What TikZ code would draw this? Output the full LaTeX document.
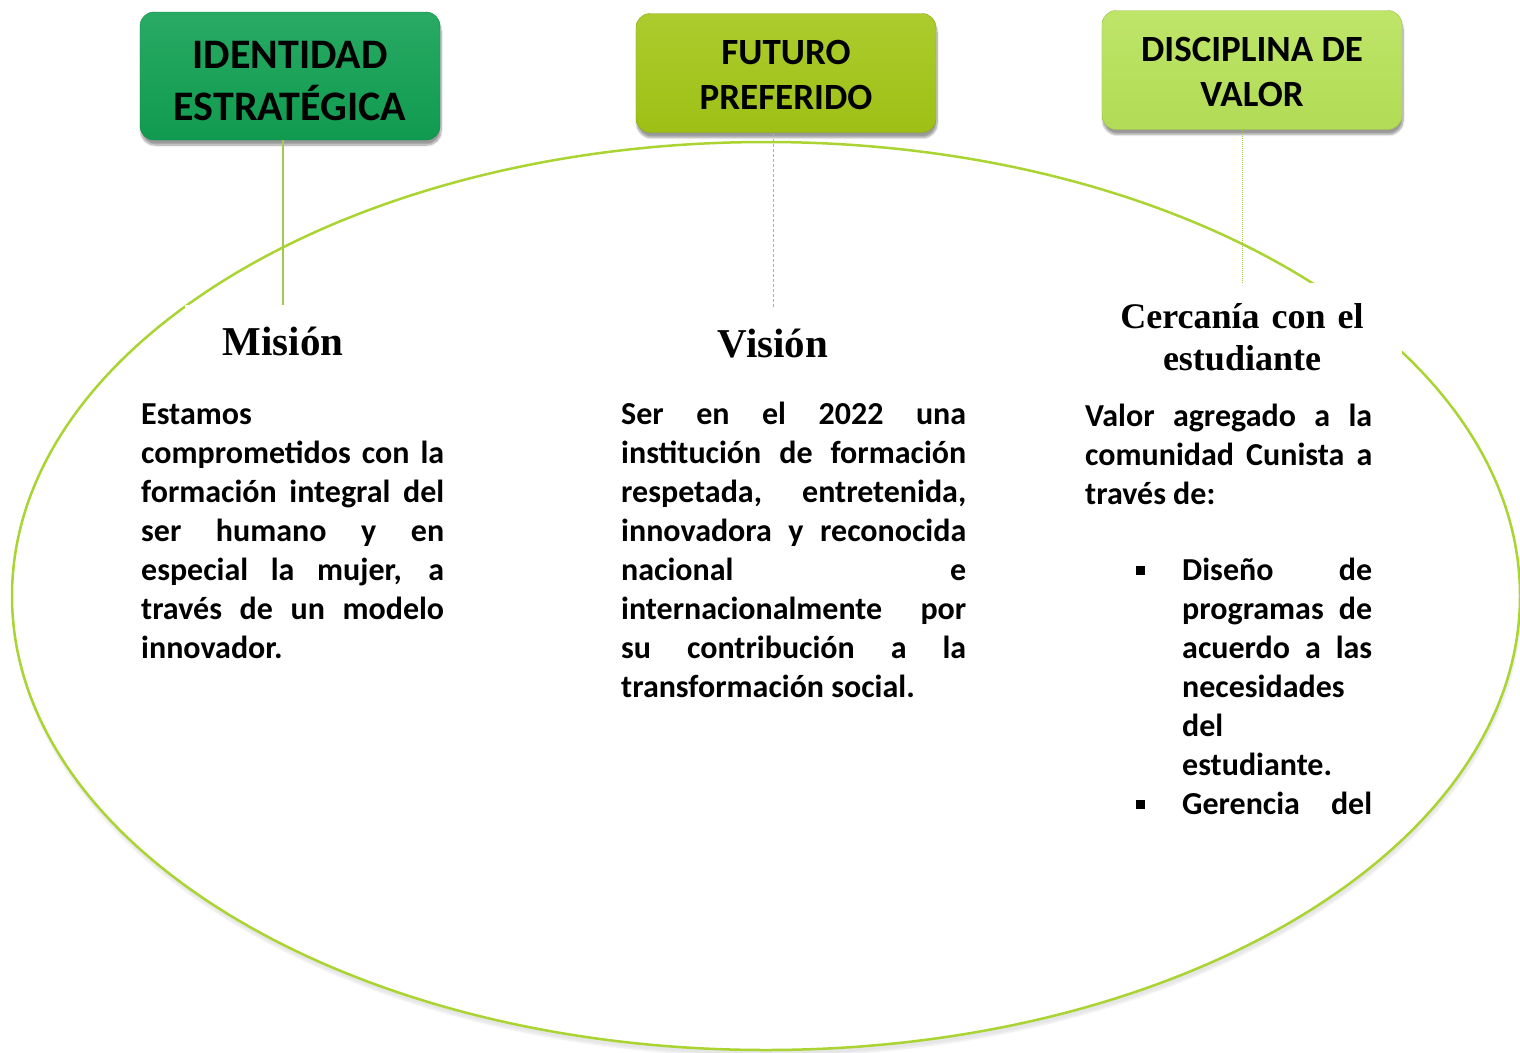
\documentclass[tikz,border=0pt]{standalone}
\usepackage{fontspec}
\setmainfont{Carlito}
\newfontfamily\tiempos{Liberation Serif}
\usetikzlibrary{positioning,shadows.blur}
\definecolor{verdeidentidad}{HTML}{11A153}
\definecolor{verdefuturo}{HTML}{A3C616}
\definecolor{verdedisciplina}{HTML}{B7E258}
\definecolor{lineaelipse}{HTML}{A9D431}
\definecolor{lineaenlace}{HTML}{A2CB4E}
\tikzset{
caja/.style={
  rounded corners=14pt,
  minimum width=300pt,
  minimum height=119pt,
  align=center,
  blur shadow={shadow xshift=1pt,shadow yshift=-5pt,shadow blur steps=10,shadow opacity=40}
},
titulo/.style={
  fill=white,
  inner xsep=6pt,
  inner ysep=14pt,
  anchor=north,
  align=center
},
texto/.style={
  inner sep=0pt,
  anchor=base west,
  align=justify,
  font=\bfseries\fontsize{32}{39}\selectfont
},
enlace/.style={draw=lineaenlace,line width=1.2pt}
}

\begin{document}
\begin{tikzpicture}[x=1pt,y=-1pt]
  \useasboundingbox (0,0) rectangle (1520,1052);
  \draw[draw=lineaelipse,line width=2.5pt,fill=white,
    blur shadow={shadow xshift=1pt,shadow yshift=-6pt,shadow blur steps=6,shadow opacity=10}]
    (766,596) ellipse [x radius=754pt,y radius=454pt];

  \node[caja,minimum height=128pt,top color=verdeidentidad!90!white,bottom color=verdeidentidad!96!black,
    draw=verdeidentidad!85!black,font=\bfseries\fontsize{42}{52}\selectfont]
    (identidad) at (290,76) {\rule{0pt}{37pt}IDENTIDAD\\ESTRATÉGICA};
  \node[caja,top color=verdefuturo!90!white,bottom color=verdefuturo!97!black,
    draw=verdefuturo!85!black,font=\bfseries\fontsize{37}{45}\selectfont]
    (futuro) at (786,73) {\rule{0pt}{29pt}FUTURO\\PREFERIDO};
  \node[caja,top color=verdedisciplina!90!white,bottom color=verdedisciplina!97!black,
    draw=verdedisciplina!85!black,font=\bfseries\fontsize{37}{45}\selectfont]
    (disciplina) at (1252,70) {\rule{0pt}{29pt}DISCIPLINA DE\\VALOR};

  \node[titulo,minimum width=196pt,text height=36pt,font=\tiempos\bfseries\fontsize{41}{46}\selectfont]
    (mision) at (283,305) {Misión};
  \node[titulo,text height=36pt,font=\tiempos\bfseries\fontsize{41}{46}\selectfont]
    (vision) at (773,307) {Visión};
  \node[titulo,text width=300pt,inner xsep=10pt,text height=31pt,font=\tiempos\bfseries\fontsize{36}{42}\selectfont]
    (cercania) at (1242,283) {Cercanía con el\\estudiante};

  \draw[enlace] (mision.north) -- (mision.north |- identidad.south);
  \draw[enlace,line width=0.8pt,dash pattern=on 3pt off 2pt] (vision.north) -- (vision.north |- futuro.south);
  \draw[enlace,line width=0.9pt,dash pattern=on 1pt off 1pt] (cercania.north) -- (cercania.north |- disciplina.south);

  \node[texto,text width=303pt] (misiontexto) at (141,424) {Estamos\linebreak
    comprometidos con la\linebreak formación integral del\linebreak ser humano y en\linebreak
    especial la mujer, a\linebreak través de un modelo\linebreak innovador.};
  \node[texto,text width=345pt] (visiontexto) at (621,424) {Ser en el 2022 una\linebreak
    institución de formación\linebreak respetada, entretenida,\linebreak innovadora y reconocida\linebreak
    nacional e\linebreak internacionalmente por\linebreak su contribución a la\linebreak
    transformación social.};
  \node[texto,text width=287pt] (cercaniatexto) at (1085,426) {Valor agregado a la\linebreak
    comunidad Cunista a\linebreak través de:};
  \node[texto,text width=190pt] (lista) at (1182,580) {%
    \llap{\rule[5pt]{9pt}{9pt}\hspace{37pt}}Diseño de\linebreak programas de\linebreak
    acuerdo a las\linebreak necesidades\linebreak del\linebreak estudiante.\par
    \noindent\llap{\rule[5pt]{9pt}{9pt}\hspace{37pt}}Gerencia\hfill del};
\end{tikzpicture}
\end{document}
